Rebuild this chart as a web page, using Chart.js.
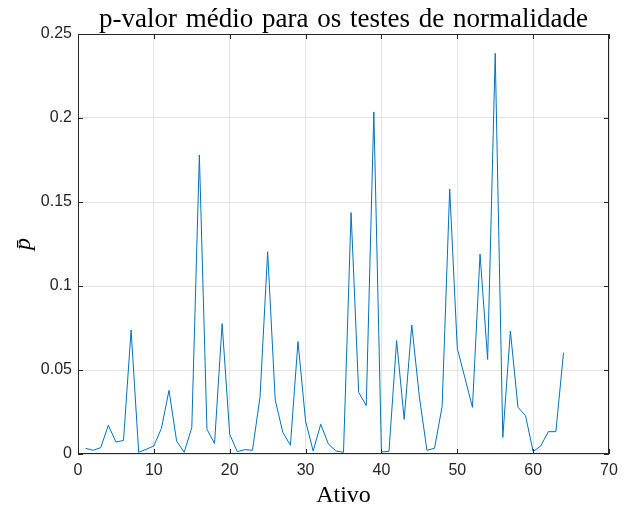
<!DOCTYPE html>
<html>
<head>
<meta charset="utf-8">
<script src="https://cdn.jsdelivr.net/npm/chart.js@4/dist/chart.umd.min.js"></script>
<style>
  body { margin: 0; background: #fff; }
</style>
</head>
<body>
<canvas id="pChart" width="628" height="505"></canvas>
<script>
// p-valor medio por ativo
const ativos = Array.from({ length: 64 }, (_, i) => i + 1);
const pMedio = [
  0.0034, 0.0022, 0.0038, 0.0171, 0.0071, 0.0081, 0.0738, 0.0010, 0.0028, 0.0048,
  0.0153, 0.0379, 0.0077, 0.0010, 0.0157, 0.1780, 0.0147, 0.0063, 0.0776, 0.0117,
  0.0014, 0.0026, 0.0022, 0.0341, 0.1204, 0.0321, 0.0129, 0.0052, 0.0669, 0.0196,
  0.0018, 0.0177, 0.0060, 0.0018, 0.0010, 0.1437, 0.0367, 0.0288, 0.2036, 0.0012,
  0.0016, 0.0675, 0.0206, 0.0768, 0.0341, 0.0022, 0.0034, 0.0282, 0.1577, 0.0629,
  0.0454, 0.0278, 0.1190, 0.0563, 0.2385, 0.0099, 0.0732, 0.0278, 0.0228, 0.0014,
  0.0048, 0.0133, 0.0133, 0.0603
];
const xTicks = [0, 10, 20, 30, 40, 50, 60, 70];
const yTicks = [0, 0.05, 0.1, 0.15, 0.2, 0.25];

const titulo = 'p-valor médio para os testes de normalidade';
const rotuloX = 'Ativo';
const rotuloY = 'p\u0304';

const eixoCor = '#262626';

// caixa, ticks para dentro e textos no estilo MATLAB
const estiloMatlab = {
  id: 'estiloMatlab',
  afterDraw(chart) {
    const { ctx, chartArea: a, scales } = chart;
    ctx.save();
    ctx.strokeStyle = eixoCor;
    ctx.lineWidth = 1;
    ctx.strokeRect(a.left + 0.5, a.top + 0.5, a.right - a.left - 1, a.bottom - a.top - 1);
    const tl = 5;
    ctx.beginPath();
    scales.x.ticks.forEach(t => {
      const px = Math.round(scales.x.getPixelForValue(t.value)) + 0.5;
      ctx.moveTo(px, a.bottom); ctx.lineTo(px, a.bottom - tl);
      ctx.moveTo(px, a.top); ctx.lineTo(px, a.top + tl);
    });
    scales.y.ticks.forEach(t => {
      const py = Math.round(scales.y.getPixelForValue(t.value)) + 0.5;
      ctx.moveTo(a.left, py); ctx.lineTo(a.left + tl, py);
      ctx.moveTo(a.right, py); ctx.lineTo(a.right - tl, py);
    });
    ctx.stroke();

    const cx = (a.left + a.right) / 2;
    const cy = (a.top + a.bottom) / 2;
    ctx.fillStyle = '#000';
    ctx.textAlign = 'center';
    ctx.textBaseline = 'alphabetic';
    ctx.font = '27px "Liberation Serif", "Times New Roman", serif';
    ctx.wordSpacing = '2px';
    ctx.fillText(titulo, cx, 27);
    ctx.wordSpacing = '0px';
    ctx.font = '24px "Liberation Serif", "Times New Roman", serif';
    ctx.fillText(rotuloX, cx, a.bottom + 48);
    ctx.translate(a.left - 48, cy);
    ctx.rotate(-Math.PI / 2);
    ctx.font = 'italic 24px "Liberation Serif", "Times New Roman", serif';
    ctx.fillText(rotuloY, 0, 0);
    ctx.restore();
  }
};

const canvas = document.getElementById('pChart');
const ctx = canvas.getContext('2d');

new Chart(ctx, {
  type: 'line',
  data: {
    datasets: [{
      label: rotuloY,
      data: ativos.map((a, i) => ({ x: a, y: pMedio[i] })),
      borderColor: '#0072BD',
      borderWidth: 1,
      pointRadius: 0,
      tension: 0,
      fill: false,
    }],
  },
  options: {
    responsive: false,
    animation: false,
    layout: { padding: { top: 34, right: 19, left: 0, bottom: 0 } },
    plugins: {
      legend: { display: false },
      tooltip: { enabled: false },
    },
    scales: {
      x: {
        type: 'linear',
        min: 0,
        max: 70,
        afterBuildTicks: s => { s.ticks = xTicks.map(v => ({ value: v })); },
        afterFit: s => { s.height = 51; },
        grid: { color: '#e3e3e3', drawTicks: false },
        border: { display: false },
        ticks: {
          padding: 7,
          color: eixoCor,
          font: { family: '"Liberation Sans", Arial, sans-serif', size: 16 },
          maxRotation: 0,
        },
      },
      y: {
        type: 'linear',
        min: 0,
        max: 0.25,
        afterBuildTicks: s => { s.ticks = yTicks.map(v => ({ value: v })); },
        afterFit: s => { s.width = 78; },
        grid: { color: '#e3e3e3', drawTicks: false },
        border: { display: false },
        ticks: {
          padding: 6,
          color: eixoCor,
          font: { family: '"Liberation Sans", Arial, sans-serif', size: 16 },
          callback: v => Number(v.toFixed(2)).toString(),
        },
      },
    },
  },
  plugins: [estiloMatlab],
});
</script>
</body>
</html>
